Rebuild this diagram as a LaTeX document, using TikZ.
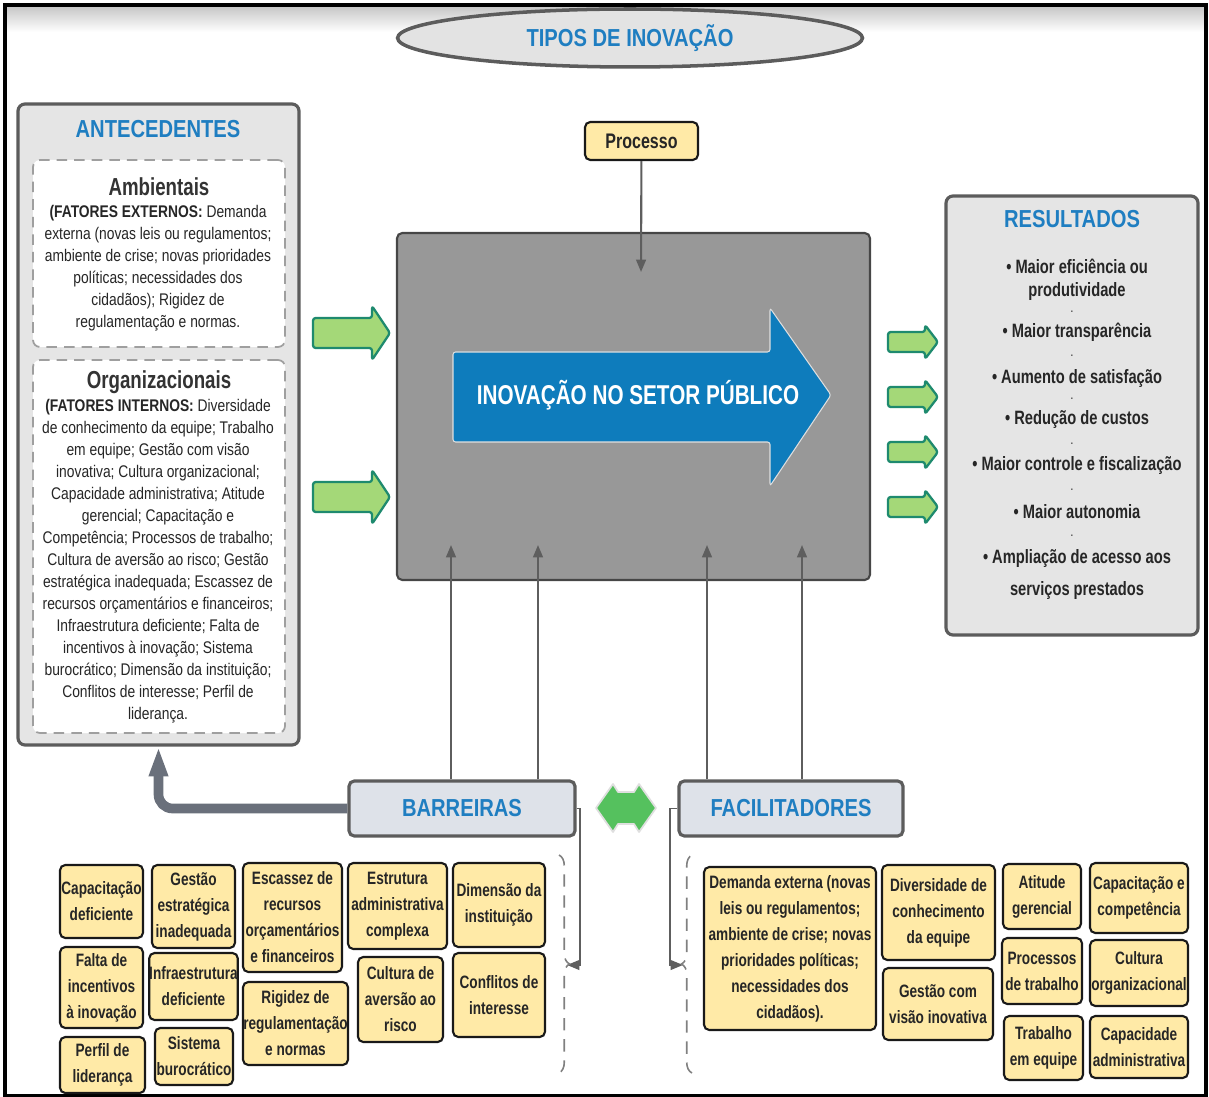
\documentclass[tikz,border=0pt]{standalone}
\usepackage{fontspec}
\setmainfont{Liberation Sans}[FakeStretch=0.82]
\newfontfamily\estreita{Liberation Sans}[FakeStretch=0.76]
\usepackage{tikz}
\usetikzlibrary{
  shapes.geometric, arrows.meta, positioning, fit,
  calc, decorations.pathreplacing
}

\definecolor{azultitulo}{HTML}{1F7EC1}
\definecolor{azulseta}{HTML}{0E7CBC}
\definecolor{cinzapainel}{HTML}{E5E5E5}
\definecolor{bordapainel}{HTML}{5C5C5C}
\definecolor{cinzacentro}{HTML}{989898}
\definecolor{amarelo}{HTML}{FFEAA7}
\definecolor{verdeclaro}{HTML}{A4D878}
\definecolor{verdeborda}{HTML}{1E8A6E}
\definecolor{verdeduplo}{HTML}{55C15E}
\definecolor{cinzaazul}{HTML}{DEE2E9}
\definecolor{cinzaseta}{HTML}{6A707B}
\definecolor{cinzalinha}{HTML}{5E5E5E}

\begin{document}
\begin{tikzpicture}[x=0.02cm, y=-0.02cm,
    area/.style n args={4}{minimum width={(#3-#1)*0.02cm}, minimum height={(#4-#2)*0.02cm},
      at={({(#1+#3)/2},{(#2+#4)/2})}},
    painel/.style={draw=bordapainel, fill=cinzapainel, line width=1.8pt, rounded corners=4pt, inner sep=0pt},
    tracejado/.style={draw=gray!75, fill=white, line width=1pt, dash pattern=on 6pt off 4pt, rounded corners=4pt, inner sep=0pt},
    titulo/.style={text=azultitulo, font=\fontsize{14}{16}\selectfont\bfseries},
    subtitulo/.style={text=black!80, font=\estreita\fontsize{14}{16}\selectfont\bfseries},
    corpo/.style={align=center, text=black!85, font=\fontsize{9.6}{12.5}\selectfont},
    caixa/.style={draw=black!90, fill=amarelo, line width=1.2pt, rounded corners=3pt, inner sep=0pt, align=center,
      text=black!85, font=\estreita\fontsize{10.2}{14.8}\selectfont\bfseries},
    rotulo/.style={draw=bordapainel, fill=cinzaazul, line width=1.8pt, rounded corners=3pt, inner sep=0pt},
    conector/.style={draw=cinzalinha, line width=1.2pt, -{Triangle[length=7pt,width=5.5pt]}},
    setaverde/.style={fill=verdeclaro, draw=verdeborda, line width=1.3pt, rounded corners=1.5pt, line join=round},
    chave/.style={draw=gray, line width=0.9pt, dash pattern=on 7pt off 5pt, decorate, decoration={brace, amplitude=6pt}},
    item/.style={font=\estreita\fontsize{11}{12}\selectfont\bfseries, text=black!85, inner sep=0pt}
  ]
  \useasboundingbox (0,0) rectangle (1209,1097);

  % moldura
  \shade[top color=gray!45, bottom color=white] (6,6) rectangle (1206,32);
  \draw[line width=2.2pt] (5,5) rectangle (1206,1096);

  % titulo
  \node[ellipse, draw=bordapainel, fill=gray!22, line width=2pt, minimum width=9.3cm, minimum height=1.16cm,
        text=azultitulo, font=\fontsize{14}{16}\selectfont\bfseries] (tipos) at (630,38) {TIPOS DE INOVAÇÃO};

  % antecedentes
  \node[painel, fit={(18,104) (299,745)}] (antecedentes) {};
  \node[titulo] (antTitulo) at (158,129) {ANTECEDENTES};
  \node[tracejado, fit={(33,160) (285,347)}] (ambientais) {};
  \node[subtitulo] (ambTitulo) at (159,187) {Ambientais};
  \node[corpo] (ambTexto) at (158,268) {\textbf{(FATORES EXTERNOS:} Demanda\\externa (novas leis ou regulamentos;\\ambiente de crise; novas prioridades\\políticas; necessidades dos\\cidadãos); Rigidez de\\regulamentação e normas.};
  \node[tracejado, fit={(33,360) (285,733)}] (organizacionais) {};
  \node[subtitulo] (orgTitulo) at (159,382) {Organizacionais};
  \node[corpo] (orgTexto) at (158,561) {\textbf{(FATORES INTERNOS:} Diversidade\\de conhecimento da equipe; Trabalho\\em equipe; Gestão com visão\\inovativa; Cultura organizacional;\\Capacidade administrativa; Atitude\\gerencial; Capacitação e\\Competência; Processos de trabalho;\\Cultura de aversão ao risco; Gestão\\estratégica inadequada; Escassez de\\recursos orçamentários e financeiros;\\Infraestrutura deficiente; Falta de\\incentivos à inovação; Sistema\\burocrático; Dimensão da instituição;\\Conflitos de interesse; Perfil de\\liderança.};

  % bloco central
  \node[draw=gray!55!black, fill=cinzacentro, line width=1.2pt, rounded corners=3pt, inner sep=0pt,
        fit={(397,233) (870,580)}] (centro) {};
  \filldraw[fill=azulseta, draw=white!75!gray, line width=0.6pt, rounded corners=1.5pt]
    (453,352) -- (770,352) -- (770,308) -- (831,395) -- (770,486) -- (770,442) -- (453,442) -- cycle;
  \node[text=white, font=\estreita\fontsize{15.5}{18}\selectfont\bfseries] (inovacao) at (638,395) {INOVAÇÃO NO SETOR PÚBLICO};

  \node[caixa, area={585}{122}{698}{160}, font=\estreita\fontsize{12}{14}\selectfont\bfseries] (processo) {Processo};
  \coordinate (entrada) at (641,272);
  \draw[conector] (processo) -- (entrada);

  % setas verdes
  \foreach \yy in {333,497}{
    \draw[setaverde] (313,\yy-15) -- (372,\yy-15) -- (372,\yy-27) -- (390,\yy)
      -- (372,\yy+27) -- (372,\yy+15) -- (313,\yy+15) -- cycle;
  }
  \foreach \yy in {342,397,452,507}{
    \draw[setaverde] (888,\yy-10) -- (925,\yy-10) -- (925,\yy-17) -- (938,\yy)
      -- (925,\yy+17) -- (925,\yy+10) -- (888,\yy+10) -- cycle;
  }

  % resultados
  \node[painel, fit={(946,196) (1198,635)}] (resultados) {};
  \node[titulo] (resTitulo) at (1072,219) {RESULTADOS};
  \foreach \yy/\txt [count=\i] in {266/{• Maior eficiência ou}, 292/{produtividade},
      332/{• Maior transparência}, 379/{• Aumento de satisfação}, 420/{• Redução de custos},
      466/{• Maior controle e fiscalização}, 512/{• Maior autonomia},
      559/{• Ampliação de acesso aos}, 591/{serviços prestados}}
    \node[item] (res\i) at (1077,\yy) {\txt};
  \foreach \yy [count=\i] in {312,356,399,444,490,536}
    \node[font=\footnotesize, text=black!80, inner sep=0pt] (ponto\i) at (1072,\yy) {.};

  % barreiras e facilitadores
  \node[rotulo, area={349}{781}{575}{836}, titulo] (barreiras) {BARREIRAS};
  \node[rotulo, area={679}{781}{903}{836}, titulo] (facilitadores) {FACILITADORES};
  \foreach \xx [count=\i] in {451,538}{
    \coordinate (bsobe\i) at (\xx,545);
    \draw[conector] (bsobe\i |- barreiras.north) -- (bsobe\i);
  }
  \foreach \xx [count=\i] in {707,802}{
    \coordinate (fsobe\i) at (\xx,545);
    \draw[conector] (fsobe\i |- facilitadores.north) -- (fsobe\i);
  }
  \draw[cinzaseta, line width=5.5pt, rounded corners=8pt, -{Triangle[length=17pt,width=10pt]}]
    (barreiras.west) -| (antecedentes.south);
  \filldraw[fill=verdeduplo, draw=gray!25, line width=1pt, line join=round]
    (596,808) -- (613,784) -- (618,792) -- (634,792) -- (639,784) -- (656,808)
    -- (639,832) -- (634,824) -- (618,824) -- (613,832) -- cycle;

  \coordinate (cantoB) at (580,965);
  \coordinate (pontaB) at (567,965);
  \draw[conector, line width=1pt] (barreiras.east) -| (cantoB) -- (pontaB);
  \draw[chave] (559,855) -- (559,1073);
  \coordinate (cantoF) at (670,965);
  \coordinate (pontaF) at (683,965);
  \draw[conector, line width=1pt] (facilitadores.west) -| (cantoF) -- (pontaF);
  \draw[chave] (692,1073) -- (692,855);

  % caixas das barreiras
  \node[caixa, area={60}{865}{143}{938}] (capDef) {Capacitação\\deficiente};
  \node[caixa, area={60}{947}{143}{1028}] (faltaInc) {Falta de\\incentivos\\à inovação};
  \node[caixa, area={60}{1037}{145}{1093}] (perfilLid) {Perfil de\\liderança};
  \node[caixa, area={152}{865}{235}{948}] (gestaoEst) {Gestão\\estratégica\\inadequada};
  \node[caixa, area={152}{953}{235}{1020}] (infraDef) {Infraestrutura\\deficiente};
  \node[caixa, area={155}{1028}{233}{1085}] (sistBur) {Sistema\\burocrático};
  \node[caixa, area={243}{863}{342}{972}] (escassez) {Escassez de\\recursos\\orçamentários\\e financeiros};
  \node[caixa, area={243}{982}{348}{1065}] (rigidez) {Rigidez de\\regulamentação\\e normas};
  \node[caixa, area={348}{863}{447}{949}] (estrutura) {Estrutura\\administrativa\\complexa};
  \node[caixa, area={358}{957}{443}{1042}] (aversao) {Cultura de\\aversão ao\\risco};
  \node[caixa, area={453}{863}{545}{947}] (dimensao) {Dimensão da\\instituição};
  \node[caixa, area={453}{953}{545}{1037}] (conflitos) {Conflitos de\\interesse};

  % caixas dos facilitadores
  \node[caixa, area={704}{867}{876}{1030}] (demanda) {Demanda externa (novas\\leis ou regulamentos;\\ambiente de crise; novas\\prioridades políticas;\\necessidades dos\\cidadãos).};
  \node[caixa, area={882}{865}{995}{960}] (diversidade) {Diversidade de\\conhecimento\\da equipe};
  \node[caixa, area={883}{968}{993}{1040}] (gestaoVis) {Gestão com\\visão inovativa};
  \node[caixa, area={1003}{864}{1081}{929}] (atitude) {Atitude\\gerencial};
  \node[caixa, area={1002}{938}{1082}{1004}] (processos) {Processos\\de trabalho};
  \node[caixa, area={1004}{1016}{1083}{1080}] (trabalho) {Trabalho\\em equipe};
  \node[caixa, area={1090}{863}{1188}{933}] (capComp) {Capacitação e\\competência};
  \node[caixa, area={1090}{940}{1188}{1006}] (culturaOrg) {Cultura\\organizacional};
  \node[caixa, area={1090}{1016}{1188}{1078}] (capAdm) {Capacidade\\administrativa};
\end{tikzpicture}
\end{document}
